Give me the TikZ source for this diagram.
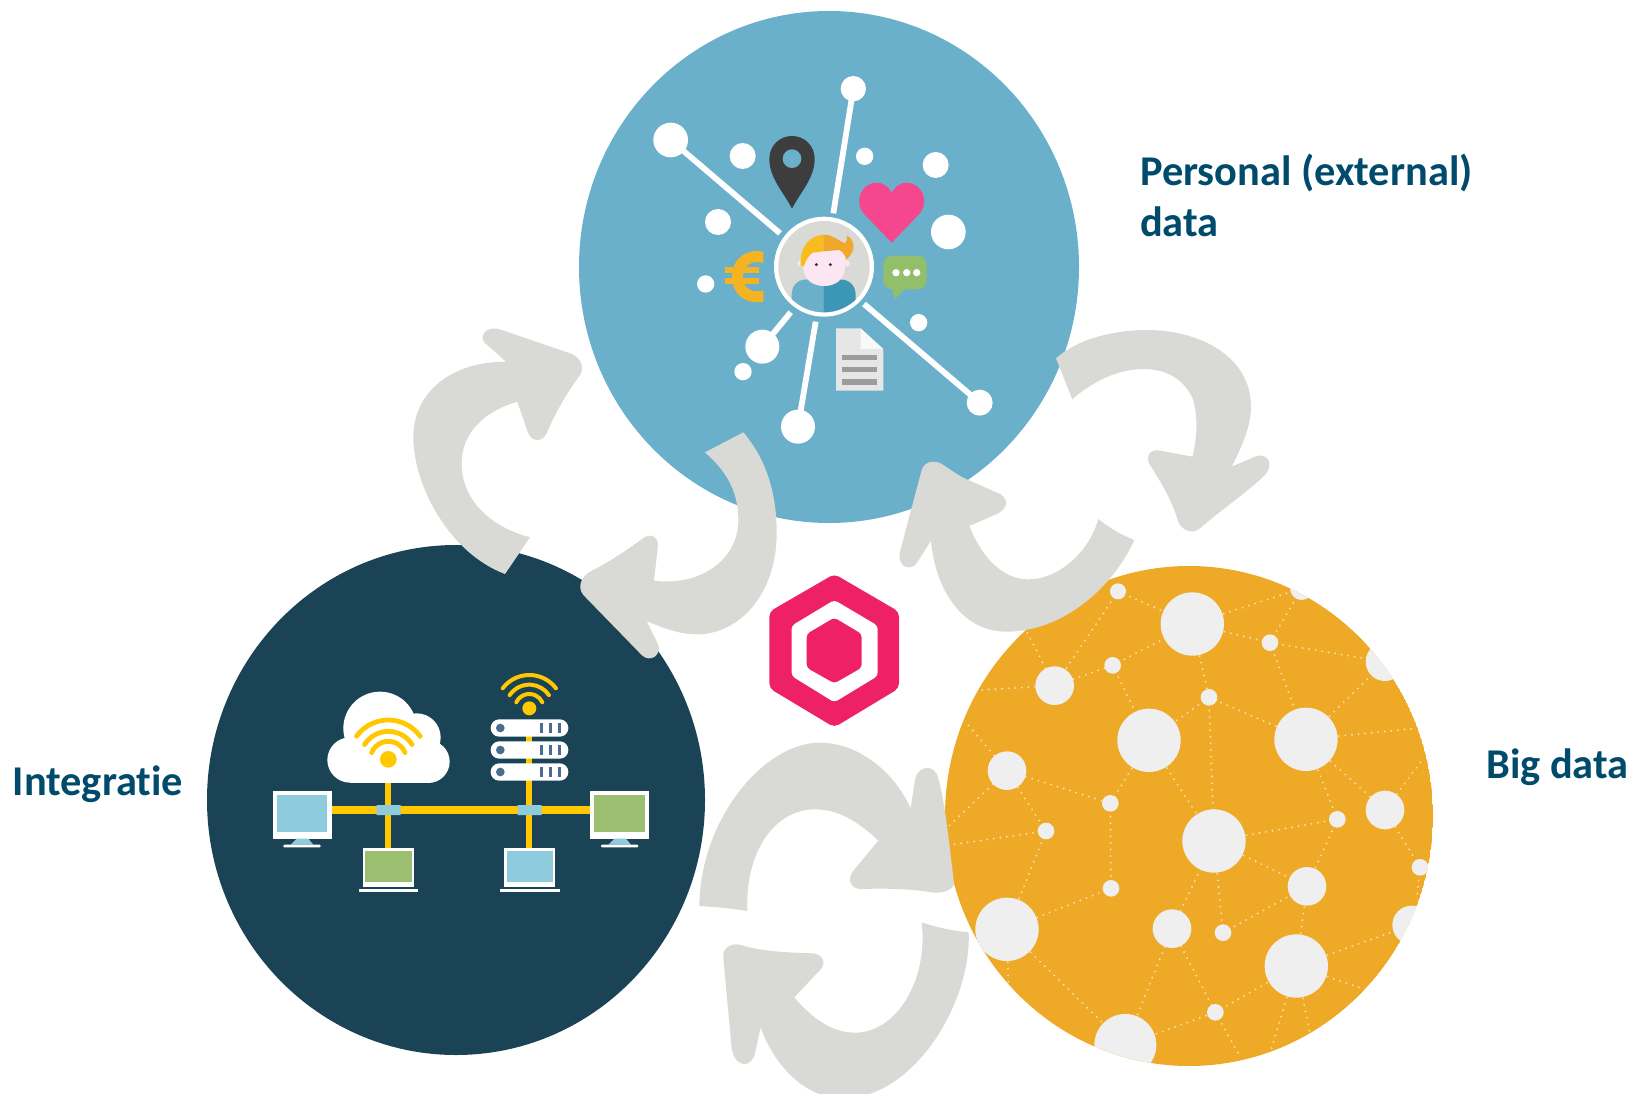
\documentclass[tikz,border=0pt]{standalone}
\usepackage{fontspec}
\setmainfont[Ligatures=NoCommon]{Carlito}
\definecolor{cblue}{HTML}{6AB0CB}
\definecolor{cdark}{HTML}{1B4356}
\definecolor{cyel}{HTML}{EEAA26}
\definecolor{cdot}{HTML}{EFEFEF}
\definecolor{cgrey}{HTML}{D9DAD6}
\definecolor{ctext}{HTML}{004B6B}
\definecolor{cpink}{HTML}{EE2167}
\definecolor{cheart}{HTML}{F4478E}
\definecolor{cwifi}{HTML}{FFC800}
\definecolor{cscreenb}{HTML}{8ECCDD}
\definecolor{cscreeng}{HTML}{9ABF70}
\definecolor{cserver}{HTML}{4A6C8F}
\definecolor{ceuro}{HTML}{F5B324}
\definecolor{cbubble}{HTML}{93BF6B}
\definecolor{cdoc}{HTML}{E6E6E6}
\definecolor{cdocl}{HTML}{9C9C9C}
\definecolor{cperson}{HTML}{3B97B5}
\definecolor{cface}{HTML}{FBE6F2}
\definecolor{chairy}{HTML}{F9BC1C}
\definecolor{chairo}{HTML}{F0A72A}
\definecolor{cring}{HTML}{D9D9D5}
\definecolor{cnet}{HTML}{F8DFAE}
\tikzset{
  label text/.style={font=\bfseries\fontsize{42.4}{50}\selectfont, text=ctext, anchor=base west, inner sep=0pt, align=left},
  flow arrow/.style={fill=cgrey},
  spoke/.style={draw=white, line width=5.8pt},
  net/.style={draw=cnet, line width=2.1pt, line cap=round, dash pattern=on 0pt off 6.6pt},
  wifi/.style={draw=cwifi, line cap=round},
  wire/.style={draw=cwifi},
  zoomed/.style={x=0.33333pt,y=-0.33333pt},
}
\begin{document}
\begin{tikzpicture}[x=1pt,y=-1pt]
\useasboundingbox (0,0) rectangle (1637,1094);

% ---- three discs
\fill[cblue] (829,267) ellipse [x radius=250, y radius=256];
\fill[cdark] (456,800) ellipse [x radius=249, y radius=255];

% ---- big data disc
\begin{scope}[shift={(940,560)},zoomed]
  \begin{scope}
    \clip (747,768) ellipse [x radius=732, y radius=750];
    \fill[cyel] (747,768) ellipse [x radius=732, y radius=750];
    \foreach \n/\x/\y in {a/534/94,b/757/192,f/1085/85,g/990/248,h/1335/305,e/518/316,c/344/377,i/807/412,k/627/541,j/1098/538,l/201/632,y/1335/750,n/511/730,x/1192/778,o/318/813,m/822/843,z/1440/922,w/1101/979,q/513/985,p/201/1108,s/696/1106,v/849/1118,aa/1415/1095,u/1069/1218,t/826/1357,r/556/1455,
      e1/120/390,e2/260/215,e3/80/490,e4/25/800,e5/30/855,e6/205/1280,e7/900/1490,e8/990/1480,e9/1110/1420,e10/1280/1290,e11/1450/595,e12/1430/1020,e13/1430/505}
      {\coordinate (\n) at (\x,\y);}
    \foreach \p/\q in {a/b,a/c,c/e,e/b,b/f,b/g,g/f,g/h,g/j,b/i,e/k,i/k,i/j,i/m,c/e1,c/e2,k/n,k/m,l/e3,l/e4,l/n,l/o,o/e5,o/p,n/q,q/p,p/e6,p/r,r/s,r/t,s/m,s/t,t/e7,t/u,u/e8,u/e9,u/w,u/aa,u/e10,m/v,v/w,m/w,m/x,x/w,x/j,j/y,y/e11,y/z,z/e12,j/e13,j/h}
      {\path[net] (\p) -- (\q);}
    \foreach \x/\y/\r in {534/94/24,757/192/95,1085/85/35,990/248/25,1335/305/58,518/316/25,344/377/58,807/412/25,627/541/95,1098/538/95,201/632/58,1335/750/58,511/730/25,1192/778/25,318/813/25,822/843/95,1440/922/25,1101/979/58,513/985/25,201/1108/95,696/1106/58,849/1118/25,1415/1095/58,1069/1218/95,826/1357/25,556/1455/93}
      {\fill[cdot] (\x,\y) circle [radius=\r];}
  \end{scope}
\end{scope}

% ---- personal data icons
\begin{scope}[shift={(620,50)},zoomed]
  \draw[spoke] (152,270) -- (480,550);
  \draw[spoke] (700,116) -- (640,490);
  \draw[spoke] (427,890) -- (512,787);
  \draw[spoke] (534,1130) -- (587,815);
  \draw[spoke] (732,762) -- (1079,1058);
  \foreach \x/\y/\r in {152/270/52,700/116/38,368/318/39,734/319/26,947/345/39,294/516/39,985/546/52,257/702/26,896/818/26,427/890/51,369/965/26,534/1130/51,1079/1058/39}
    {\fill[white] (\x,\y) circle [radius=\r];}
  % pin
  \fill[black!76] (516,476) .. controls (490,425) and (448,385) .. (448,326) .. controls (448,288) and (478,258) .. (516,258) .. controls (554,258) and (584,288) .. (584,326) .. controls (584,385) and (542,425) .. (516,476) -- cycle;
  \fill[cblue] (516,326) circle [radius=28];
  % heart
  \fill[cheart] (815,578) -- (735,495) .. controls (700,460) and (720,400) .. (770,398) .. controls (790,398) and (805,410) .. (815,428) .. controls (825,410) and (840,398) .. (860,398) .. controls (910,400) and (930,460) .. (895,495) -- cycle;
  % euro
  \begin{scope}
    \clip (300,590) rectangle (430,770);
    \draw[ceuro, line width=11pt] (445,626) .. controls (385,605) and (352,640) .. (352,680) .. controls (352,720) and (385,755) .. (445,734);
  \end{scope}
  \draw[ceuro, line width=5.2pt] (315,660) -- (418,660) (315,693) -- (418,693);
  % speech bubble
  \fill[cbubble, rounded corners=9pt] (790,617) rectangle (920,718);
  \fill[cbubble] (815,710) -- (825,748) -- (860,710) -- cycle;
  \foreach \x in {828,860,890} {\fill[white] (\x,668) circle [radius=11];}
  % document
  \fill[cdoc] (648,835) -- (722,835) -- (790,900) -- (790,1022) -- (648,1022) -- cycle;
  \fill[cdot!40!white] (722,835) -- (790,897) -- (722,897) -- cycle;
  \foreach \y in {922,958,996} {\fill[cdocl] (665,\y-8) rectangle (772,\y+8);}
\end{scope}

% ---- person
\begin{scope}[shift={(740,200)},zoomed]
  \fill[white] (252,200) circle [radius=150];
  \fill[cring] (252,200) circle [radius=137];
  \begin{scope}
    \clip (252,200) circle [radius=137];
    \fill[cblue] (250,239) -- (195,239) .. controls (170,239) and (155,260) .. (155,285) -- (155,345) -- (250,345) -- cycle;
    \fill[cperson] (250,239) -- (305,239) .. controls (330,239) and (347,260) .. (347,285) -- (347,345) -- (250,345) -- cycle;
  \end{scope}
  \fill[cface] (183,190) circle [radius=10] (320,190) circle [radius=10];
  \fill[cface] (190,150) -- (315,150) -- (315,200) .. controls (315,240) and (285,258) .. (252,258) .. controls (219,258) and (190,240) .. (190,200) -- cycle;
  \fill[chairy] (250,104) .. controls (215,106) and (178,135) .. (182,198) -- (192,198) .. controls (197,180) and (205,168) .. (218,158) -- (250,154) -- cycle;
  \fill[chairo] (250,104) .. controls (275,102) and (300,125) .. (315,130) .. controls (322,125) and (322,115) .. (320,106) .. controls (345,120) and (350,150) .. (320,178) .. controls (315,165) and (308,155) .. (298,150) -- (250,154) -- cycle;
  \fill[black!80] (229,194) circle [radius=5] (271,194) circle [radius=5];
\end{scope}

% ---- integration icons
\begin{scope}[shift={(250,650)},zoomed]
  \draw[wire, line width=7.3pt] (245,480) -- (1020,480);
  \draw[wire, line width=6pt] (415,390) -- (415,600);
  \draw[wire, line width=6pt] (838,255) -- (838,600);
  \fill[cscreenb] (380,465) rectangle (452,495) (803,465) rectangle (875,495);
  % cloud
  \fill[white] (390,235) circle [radius=110] (500,262) circle [radius=72] (300,330) circle [radius=68] (535,335) circle [radius=64];
  \fill[white] (300,300) rectangle (535,398);
  \fill[cwifi] (415,328) circle [radius=25];
  \foreach \r/\a in {118/36,84/32,54/22}
    {\draw[wifi, line width=4.8pt] (415,328) ++(-180+\a:\r) arc [start angle=-180+\a, end angle=-\a, radius=\r];}
  % server
  \fill[cwifi] (838,175) circle [radius=21];
  \foreach \r/\a in {100/37,71/34,43/25}
    {\draw[wifi, line width=4pt] (838,175) ++(-180+\a:\r) arc [start angle=-180+\a, end angle=-\a, radius=\r];}
  \foreach \y in {234,300,366} {
    \fill[white, rounded corners=8.5pt] (722,\y-26) rectangle (955,\y+26);
    \fill[cserver] (751,\y) circle [radius=13];
    \foreach \x in {875,902,928} {\fill[cserver] (\x-5,\y-15) rectangle (\x+5,\y+15);}
  }
  % monitors
  \fill[white] (68,423) rectangle (245,566);
  \fill[cscreenb] (80,435) rectangle (232,545);
  \fill[cscreenb] (140,566) -- (175,566) -- (190,584) -- (122,584) -- cycle;
  \fill[white, rounded corners=1pt] (100,584) rectangle (212,592);
  \fill[white] (1020,423) rectangle (1197,566);
  \fill[cscreeng] (1033,435) rectangle (1184,545);
  \fill[cscreenb] (1093,566) -- (1128,566) -- (1143,584) -- (1075,584) -- cycle;
  \fill[white, rounded corners=1pt] (1053,584) rectangle (1165,592);
  % laptops
  \fill[white] (338,595) rectangle (492,712);
  \fill[cscreeng] (346,602) rectangle (485,697);
  \fill[white] (326,716) rectangle (505,727);
  \fill[white] (762,595) rectangle (916,712);
  \fill[cscreenb] (770,602) rectangle (909,697);
  \fill[white] (750,716) rectangle (929,727);
\end{scope}

% ---- flow arrows
\begin{scope}[shift={(400,320)},zoomed]
  \fill[flow arrow] (315,762) -- (390,652) .. controls (270,620) and (185,540) .. (185,430) .. controls (185,340) and (250,275) .. (352,245) -- (383,335) .. controls (392,365) and (425,370) .. (440,340) .. controls (470,270) and (500,220) .. (540,165) .. controls (555,140) and (540,110) .. (510,100) -- (300,28) .. controls (255,15) and (230,55) .. (262,75) -- (318,125) .. controls (150,125) and (40,220) .. (40,350) .. controls (40,500) and (150,700) .. (315,762) -- cycle;
  \fill[flow arrow] (1030,337) .. controls (1100,420) and (1130,520) .. (1130,640) .. controls (1130,820) and (1020,943) .. (890,943) .. controls (840,943) and (790,925) .. (740,903) -- (775,975) .. controls (785,1005) and (750,1030) .. (725,1005) -- (550,825) .. controls (530,800) and (545,770) .. (570,755) .. controls (630,725) and (680,690) .. (725,658) .. controls (750,635) and (780,650) .. (773,685) -- (762,782) .. controls (900,800) and (1015,720) .. (1015,600) .. controls (1015,510) and (975,450) .. (915,397) -- cycle;
\end{scope}
\begin{scope}[shift={(880,320)},zoomed]
  \fill[flow arrow] (528,115) .. controls (600,50) and (720,30) .. (800,30) .. controls (960,30) and (1113,110) .. (1113,260) .. controls (1113,320) and (1085,380) .. (1055,440) -- (1125,410) .. controls (1160,395) and (1185,430) .. (1155,465) .. controls (1110,510) and (1010,580) .. (960,625) .. controls (935,645) and (905,630) .. (895,605) .. controls (875,540) and (845,490) .. (810,435) .. controls (795,410) and (810,385) .. (840,392) -- (938,410) .. controls (950,350) and (955,300) .. (940,240) .. controls (910,170) and (850,147) .. (790,147) .. controls (710,147) and (630,190) .. (577,238) -- cycle;
  \fill[flow arrow] (763,660) .. controls (700,800) and (550,935) .. (380,935) .. controls (240,935) and (165,800) .. (153,662) -- (110,730) .. controls (90,755) and (50,740) .. (60,695) -- (125,450) .. controls (135,420) and (170,420) .. (190,435) .. controls (220,455) and (240,470) .. (265,480) -- (360,522) .. controls (390,540) and (380,565) .. (355,580) -- (268,618) .. controls (300,700) and (360,778) .. (445,778) .. controls (540,778) and (630,690) .. (655,597) .. controls (690,625) and (725,645) .. (763,660) -- cycle;
\end{scope}
\begin{scope}[shift={(680,720)},zoomed]
  \fill[flow arrow] (58,558) .. controls (60,300) and (250,68) .. (420,68) .. controls (530,68) and (640,150) .. (692,265) -- (705,180) .. controls (712,135) and (765,130) .. (775,175) .. controls (790,230) and (800,300) .. (822,490) .. controls (820,510) and (790,520) .. (760,518) .. controls (690,505) and (610,505) .. (540,507) .. controls (510,505) and (500,475) .. (522,450) -- (595,362) .. controls (530,300) and (470,268) .. (405,268) .. controls (280,268) and (195,400) .. (202,573) .. controls (150,565) and (100,560) .. (58,558) -- cycle;
  \clip (-100,-100) rectangle (1100,1122);
  \fill[flow arrow] (866,637) .. controls (875,850) and (700,1135) .. (490,1135) .. controls (370,1135) and (280,1030) .. (242,922) -- (225,1000) .. controls (215,1045) and (165,1045) .. (155,985) -- (130,715) .. controls (125,680) and (160,665) .. (190,677) .. controls (250,695) and (330,698) .. (400,700) .. controls (430,705) and (440,730) .. (420,750) -- (343,832) .. controls (400,900) and (460,938) .. (525,938) .. controls (650,938) and (745,780) .. (725,607) .. controls (770,622) and (815,632) .. (866,637) -- cycle;
\end{scope}

% ---- logo
\begin{scope}[shift={(750,560)},zoomed]
  \fill[cpink, rounded corners=5pt] (253,42) -- (447,155) -- (447,385) -- (253,502) -- (58,385) -- (58,155) -- cycle;
  \fill[white, rounded corners=3.5pt] (253,120) -- (383,197) -- (383,348) -- (253,427) -- (125,348) -- (125,197) -- cycle;
  \fill[cpink, rounded corners=3.5pt] (253,173) -- (335,222) -- (335,323) -- (253,370) -- (170,323) -- (170,222) -- cycle;
\end{scope}

% ---- labels
\node[label text] (personal) at (1140,185.5) {Personal (external)};
\node[label text] (personal2) at (1140,236) {data};
\node[label text] (bigdata) at (1486,778) {Big data};
\node[label text] (integratie) at (12.5,795) {Integratie};
\end{tikzpicture}
\end{document}
